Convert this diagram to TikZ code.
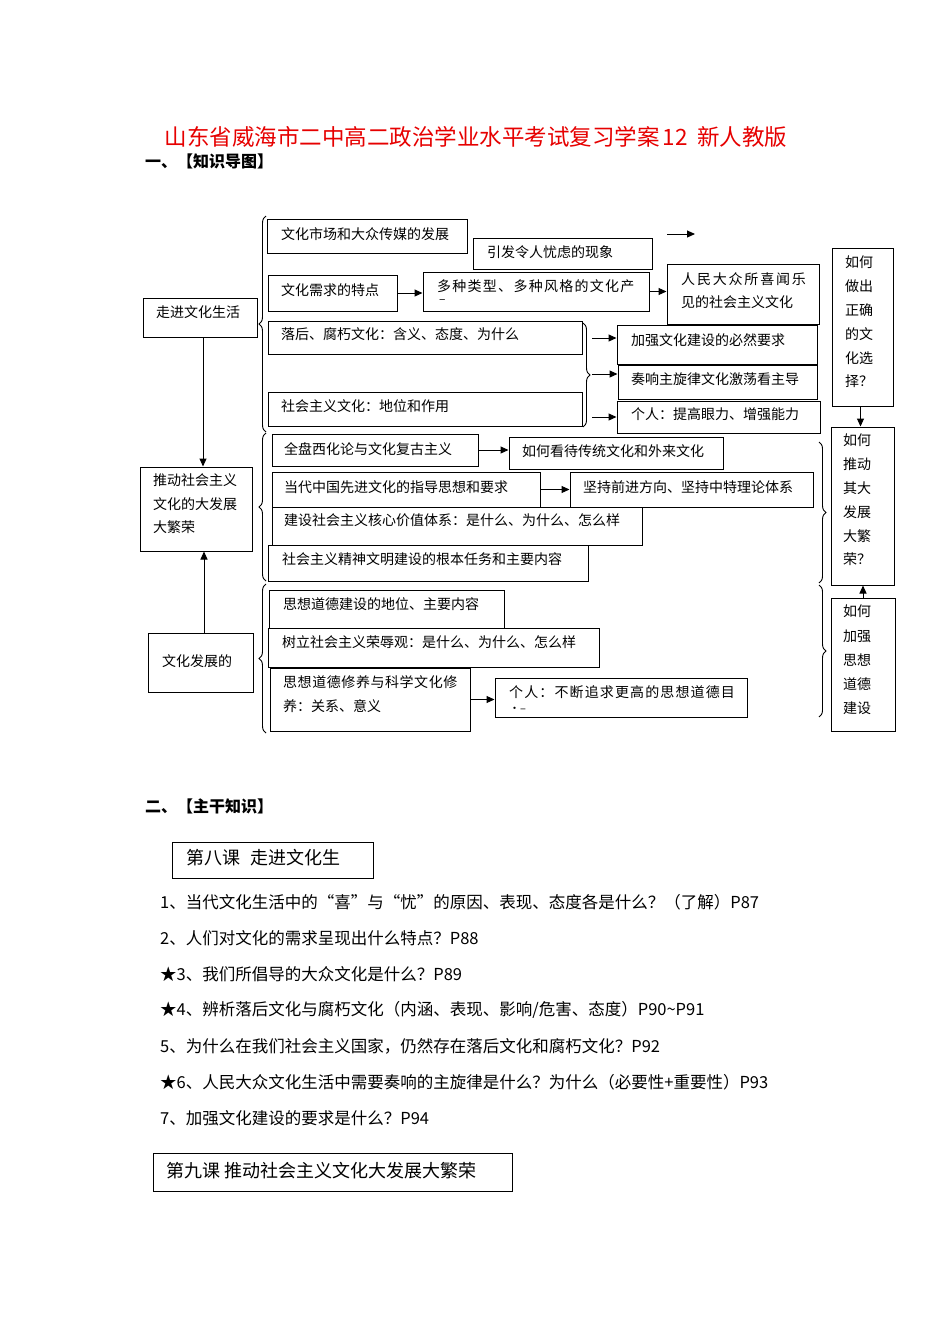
\documentclass[tikz,border=0pt]{standalone}
\usepackage{fontspec}
\setmainfont{Noto Sans CJK SC}
\usetikzlibrary{arrows.meta,decorations.pathreplacing,fit}
\newcommand{\fz}[1]{\fontsize{#1pt}{#1pt}\selectfont}
\definecolor{titlered}{RGB}{230,0,0}
\begin{document}
\begin{tikzpicture}[x=1pt,y=-1pt,
  box/.style={draw, line width=1pt, inner sep=0pt},
  txt/.style={inner sep=0pt, anchor=west, font=\fz{14}},
  qtxt/.style={inner sep=0pt, anchor=west, font=\fz{14}, align=left},
  arr/.style={line width=1pt, -{Triangle[length=8pt,width=7pt]}},
  brc/.style={line width=0.9pt, decorate, decoration={brace, amplitude=7pt}},
  body/.style={inner sep=0pt, anchor=west, font=\fz{16.5}},
]
\useasboundingbox (0,0) rectangle (950,1344);

% title
\node[inner sep=0pt, font=\fz{22.5}, text=titlered] (title) at (476,137) {山东省威海市二中高二政治学业水平考试复习学案\hspace{3pt}12\hspace{4pt} 新人教版};
\node[inner sep=0pt, anchor=west, font=\fz{16}\bfseries] (sec1) at (145,161) {一、【知识导图】};

% left main boxes
\node[box, fit={(143,298) (257,337)}] (zj) {};
\node[txt] (zjt) at (156,312) {走进文化生活};
\node[box, fit={(140,467) (252,551)}] (td) {};
\node[txt] (tdt1) at (153,480) {推动社会主义};
\node[txt] (tdt2) at (153,504) {文化的大发展};
\node[txt] (tdt3) at (153,527) {大繁荣};
\node[box, fit={(148,633) (253,692)}] (fzb) {};
\node[txt] (fzt) at (162,661) {文化发展的};

% braces left
\draw[brc] (266,432) -- (266,216);
\draw[brc] (266,581) -- (266,433);
\draw[brc] (266,733) -- (266,584);

% group 1
\node[box, fit={(267,219) (467,253)}] (b1) {};
\node[txt] (b1t) at (281,234) {文化市场和大众传媒的发展};
\node[box, fit={(473,238) (652,269)}] (b2) {};
\node[txt] (b2t) at (487,252) {引发令人忧虑的现象};
\coordinate (la1) at (667,234);
\coordinate (la2) at (695,234);
\draw[arr] (la1) -- (la2);
\node[box, fit={(268,275) (397,311)}] (b3) {};
\node[txt] (b3t) at (281,290) {文化需求的特点};
\node[box, fit={(423,272) (649,311)}] (b4) {};
\node[txt] (b4t) at (437,286) {\addfontfeature{LetterSpace=9}多种类型、多种风格的文化产};
\node[txt, font=\fz{12}] (b4t2) at (439,302) {–};
\node[box, fit={(667,264) (819,324)}] (b5) {};
\node[txt] (b5t1) at (681,279) {\addfontfeature{LetterSpace=13}人民大众所喜闻乐};
\node[txt] (b5t2) at (681,302) {见的社会主义文化};
\node[box, fit={(268,321) (582,354)}] (b6) {};
\node[txt] (b6t) at (281,334) {落后、腐朽文化：含义、态度、为什么};
\node[box, fit={(268,392) (582,426)}] (b7) {};
\node[txt] (b7t) at (281,406) {社会主义文化：地位和作用};
\draw[brc] (583,323) -- (583,427);
\node[box, fit={(617,325) (817,364)}] (b8) {};
\node[txt] (b8t) at (631,340) {加强文化建设的必然要求};
\node[box, fit={(618,365) (817,399)}] (b9) {};
\node[txt] (b9t) at (631,379) {奏响主旋律文化激荡看主导};
\node[box, fit={(617,401) (820,433)}] (b10) {};
\node[txt] (b10t) at (631,414) {个人：提高眼力、增强能力};
\coordinate (ba1) at (592,338);
\coordinate (ba2) at (592,374);
\coordinate (ba3) at (592,417);
\draw[arr] (ba1) -- (ba1 -| b8.west);
\draw[arr] (ba2) -- (ba2 -| b9.west);
\draw[arr] (ba3) -- (ba3 -| b10.west);
\draw[arr] (b3.east) -- (b3.east -| b4.west);
\draw[arr] (b4.east) -- (b4.east -| b5.west);

% right question boxes
\node[box, fit={(832,248) (893,406)}] (q1) {};
\node[qtxt] (q1t) at (845,262) {如何};
\node[qtxt] (q1t2) at (845,286) {做出};
\node[qtxt] (q1t3) at (845,310) {正确};
\node[qtxt] (q1t4) at (845,334) {的文};
\node[qtxt] (q1t5) at (845,358) {化选};
\node[qtxt] (q1t6) at (845,381) {择？};
\node[box, fit={(831,427) (894,585)}] (q2) {};
\node[qtxt] (q2t1) at (843,440) {如何};
\node[qtxt] (q2t2) at (843,464) {推动};
\node[qtxt] (q2t3) at (843,488) {其大};
\node[qtxt] (q2t4) at (843,512) {发展};
\node[qtxt] (q2t5) at (843,536) {大繁};
\node[qtxt] (q2t6) at (843,559) {荣？};
\node[box, fit={(831,598) (895,731)}] (q3) {};
\node[qtxt] (q3t1) at (843,611) {如何};
\node[qtxt] (q3t2) at (843,636) {加强};
\node[qtxt] (q3t3) at (843,660) {思想};
\node[qtxt] (q3t4) at (843,684) {道德};
\node[qtxt] (q3t5) at (843,708) {建设};
\draw[arr] ([xshift=-2pt]q1.south) -- ([xshift=-2pt]q1.south |- q2.north);
\draw[arr] (q3.north) -- (q3.north |- q2.south);
\draw[brc] (819,442) -- (819,583);
\draw[brc] (819,585) -- (819,717);

% group 2
\node[box, fit={(272,434) (478,466)}] (c1) {};
\node[txt] (c1t) at (284,449) {全盘西化论与文化复古主义};
\node[box, fit={(509,437) (723,469)}] (c2) {};
\node[txt] (c2t) at (522,451) {如何看待传统文化和外来文化};
\node[box, fit={(272,472) (540,507)}] (c3) {};
\node[txt] (c3t) at (284,487) {当代中国先进文化的指导思想和要求};
\node[box, fit={(570,472) (813,507)}] (c4) {};
\node[txt] (c4t) at (583,487) {坚持前进方向、坚持中特理论体系};
\node[box, fit={(272,507) (642,545)}] (c5) {};
\node[txt] (c5t) at (284,520) {建设社会主义核心价值体系：是什么、为什么、怎么样};
\node[box, fit={(268,545) (588,581)}] (c6) {};
\node[txt] (c6t) at (282,559) {社会主义精神文明建设的根本任务和主要内容};
\draw[arr] (c1.east) -- (c1.east -| c2.west);
\draw[arr] (c3.east) -- (c3.east -| c4.west);

% group 3
\node[box, fit={(269,590) (504,628)}] (d1) {};
\node[txt] (d1t) at (283,604) {思想道德建设的地位、主要内容};
\node[box, fit={(268,628) (599,667)}] (d2) {};
\node[txt] (d2t) at (282,642) {树立社会主义荣辱观：是什么、为什么、怎么样};
\node[box, fit={(270,668) (470,731)}] (d3) {};
\node[txt] (d3t1) at (283,682) {\addfontfeature{LetterSpace=4}思想道德修养与科学文化修};
\node[txt] (d3t2) at (283,706) {养：关系、意义};
\node[box, fit={(495,678) (747,717)}] (d4) {};
\node[txt] (d4t1) at (509,692) {\addfontfeature{LetterSpace=8}个人：不断追求更高的思想道德目};
\node[txt, font=\fz{11}] (d4t2) at (509,710) {·–};
\draw[arr] (d3.east) -- (d3.east -| d4.west);

% vertical connectors left
\draw[arr] ([xshift=3pt]zj.south) -- ([xshift=3pt]zj.south |- td.north);
\draw[arr] ([xshift=3.5pt]fzb.north) -- ([xshift=3.5pt]fzb.north |- td.south);

% section 2
\node[inner sep=0pt, anchor=west, font=\fz{16}\bfseries] (sec2) at (145,806) {二、【主干知识】};
\node[box, fit={(172,842) (373,878)}] (l8) {};
\node[inner sep=0pt, anchor=west, font=\fz{18}] (l8t) at (186,858) {第八课\hspace{10pt}走进文化生};
\node[body] (p1) at (160,902) {1、当代文化生活中的“喜”与“忧”的原因、表现、态度各是什么？（了解）P87};
\node[body] (p2) at (160,938) {2、人们对文化的需求呈现出什么特点？P88};
\node[body] (p3) at (160,974) {★3、我们所倡导的大众文化是什么？P89};
\node[body] (p4) at (160,1010) {★4、辨析落后文化与腐朽文化（内涵、表现、影响/危害、态度）P90\textasciitilde P91};
\node[body] (p5) at (160,1046) {5、为什么在我们社会主义国家，仍然存在落后文化和腐朽文化？P92};
\node[body] (p6) at (160,1082) {★6、人民大众文化生活中需要奏响的主旋律是什么？为什么（必要性+重要性）P93};
\node[body] (p7) at (160,1118) {7、加强文化建设的要求是什么？P94};
\node[box, fit={(153,1153) (512,1191)}] (l9) {};
\node[inner sep=0pt, anchor=west, font=\fz{18}] (l9t) at (166,1171) {第九课 推动社会主义文化大发展大繁荣};
\end{tikzpicture}
\end{document}
